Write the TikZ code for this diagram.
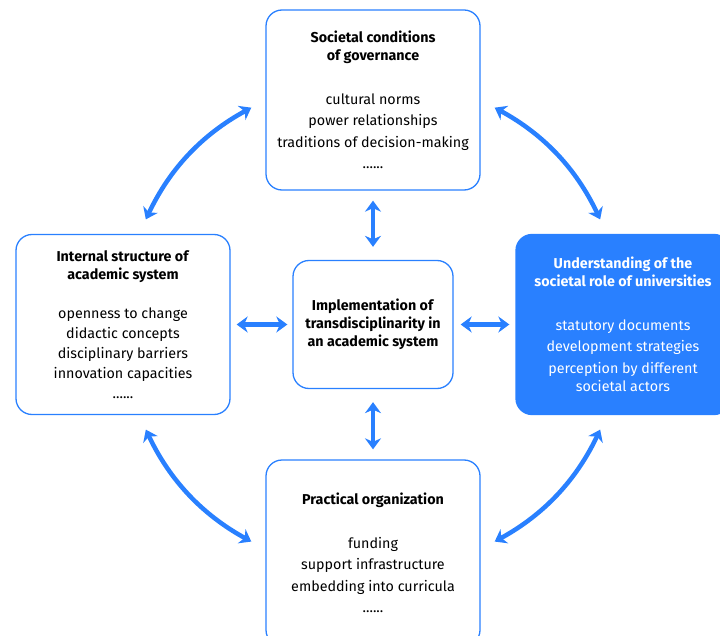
\documentclass[tikz,border=0pt]{standalone}
\usepackage{fontspec}
\setmainfont{Fira Sans}
\usetikzlibrary{arrows.meta}
\definecolor{uniblue}{RGB}{41,128,255}

\begin{document}
\begin{tikzpicture}[x=1pt, y=-1pt,
   box/.style={draw=uniblue, line width=1.3pt, rounded corners=16pt, minimum width=214pt,
     minimum height=180pt, inner sep=0pt, align=center, font=\fontsize{14.3}{21.5}\selectfont},
   link/.style={draw=uniblue, line width=4.5pt,
     {Stealth[length=11pt,width=16pt,inset=3.5pt]}-{Stealth[length=11pt,width=16pt,inset=3.5pt]}}]
 \useasboundingbox (0,0) rectangle (720,636);
 \clip (0,0) rectangle (720,636);
   \node (top) [box] at (373,100) {\textbf{Societal conditions}\\[-3.5pt]\textbf{of governance}\\[22pt]
     cultural norms\\ power relationships\\ traditions of decision-making\\ ......};
   \node (left) [box] at (123,324.5) {\textbf{Internal structure of}\\[-3.5pt]\textbf{academic system}\\[18pt]
     openness to change\\[-1.5pt] didactic concepts\\[-1.5pt] disciplinary barriers\\[-1.5pt] innovation capacities\\[-1.5pt] ......};
   \node (mid) [box, minimum width=160pt, minimum height=128pt] at (373,324.5)
     {\textbf{Implementation of}\\[-3.5pt]\textbf{transdisciplinarity in}\\[-3.5pt]\textbf{an academic system}};
   \node (right) [box, fill=uniblue, text=white] at (623,324.5) {\textbf{Understanding of the}\\[-3.5pt]\textbf{societal role of universities}\\[22pt]
     statutory documents\\ development strategies\\ perception by different\\[-3.5pt] societal actors};
   \node (bottom) [box, minimum height=186pt] at (373,553) {\textbf{Practical organization}\\[22pt]
     funding\\ support infrastructure\\ embedding into curricula\\ ......};
 % curved links between the outer boxes
 \begin{scope}[shorten <=16pt, shorten >=16pt]
   \draw[link] (top.west) to[bend right=18] (left.80);
   \draw[link] (top.east) to[bend left=18] (right.100);
   \draw[link] (left.280) to[bend right=18] (bottom.178);
   \draw[link] (bottom.2) to[bend right=18] (right.260);
 \end{scope}
 % straight links to the centre
   \draw[link, shorten <=10pt, shorten >=13pt] (top) -- (mid);
   \draw[link, shorten <=13pt, shorten >=10pt] (mid) -- (bottom);
   \draw[link, shorten <=6pt, shorten >=5pt] (left) -- (mid);
   \draw[link, shorten <=7pt, shorten >=6pt] (mid) -- (right);
 \end{tikzpicture}
\end{document}
